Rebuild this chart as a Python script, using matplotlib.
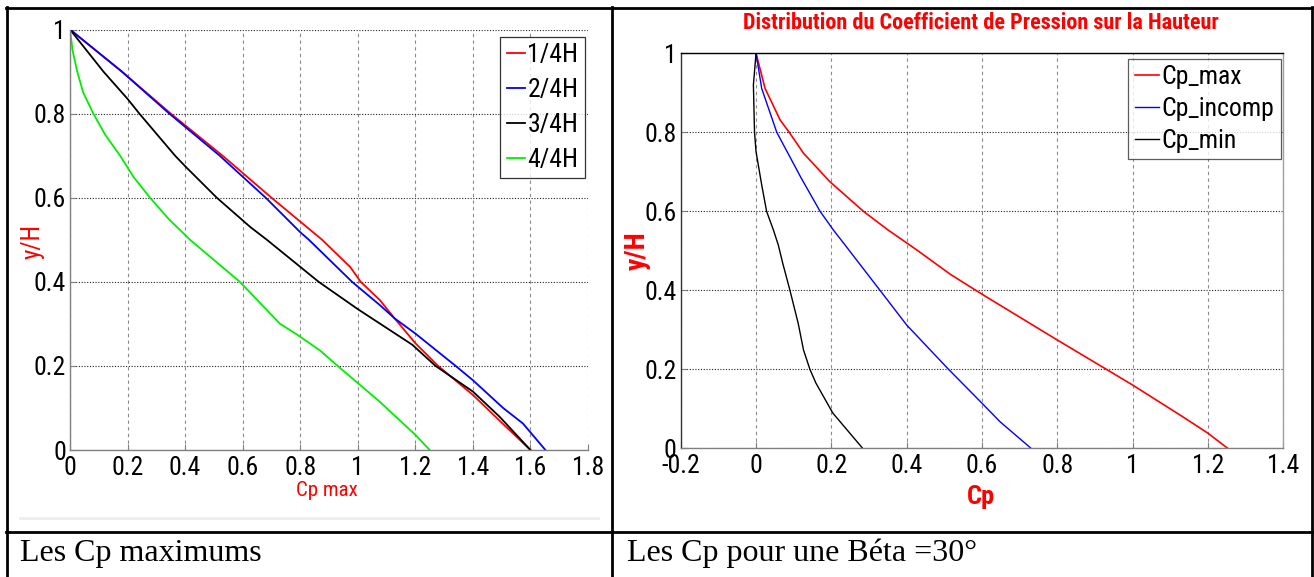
import matplotlib
matplotlib.use("Agg")
import matplotlib.pyplot as plt
from matplotlib.lines import Line2D

# ---------------- data ----------------
# Left chart: Cp max for four heights
red_y = [1.0, 0.9, 0.8, 0.7, 0.6, 0.5, 0.435, 0.4, 0.357, 0.313, 0.254, 0.2, 0.131, 0.065, 0.0]
red_x = [0.0, 0.18, 0.35, 0.53, 0.70, 0.876, 0.974, 1.01, 1.076, 1.128, 1.2, 1.279, 1.4, 1.50, 1.6]

blue_y = [1.0, 0.9, 0.8, 0.7, 0.6, 0.518, 0.5, 0.4, 0.345, 0.313, 0.277, 0.2, 0.166, 0.1, 0.063, 0.0]
blue_x = [0.0, 0.18, 0.345, 0.52, 0.68, 0.8, 0.83, 0.98, 1.076, 1.128, 1.2, 1.34, 1.4, 1.505, 1.574, 1.652]

black_y = [1.0, 0.9, 0.835, 0.8, 0.7, 0.675, 0.6, 0.53, 0.5, 0.4, 0.335, 0.301, 0.25, 0.2, 0.139, 0.079, 0.0]
black_x = [0.0, 0.116, 0.2, 0.241, 0.365, 0.4, 0.51, 0.627, 0.684, 0.864, 1.0, 1.076, 1.19, 1.27, 1.4, 1.493, 1.6]

green_y = [1.0, 0.95, 0.9, 0.85, 0.8, 0.75, 0.7, 0.65, 0.6, 0.55, 0.5, 0.4, 0.3735, 0.3, 0.274, 0.236, 0.2, 0.115, 0.036, 0.0]
green_x = [0.0, 0.009, 0.025, 0.046, 0.081, 0.122, 0.174, 0.22, 0.278, 0.342, 0.417, 0.59, 0.627, 0.73, 0.79, 0.87, 0.93, 1.076, 1.2, 1.25]

left_labels = ["1/4H", "2/4H", "3/4H", "4/4H"]
left_xticks = [0, 0.2, 0.4, 0.6, 0.8, 1.0, 1.2, 1.4, 1.6, 1.8]
left_xticklabels = ["0", "0.2", "0.4", "0.6", "0.8", "1", "1.2", "1.4", "1.6", "1.8"]
yticks = [0, 0.2, 0.4, 0.6, 0.8, 1.0]
yticklabels = ["0", "0.2", "0.4", "0.6", "0.8", "1"]

# Right chart: Beta = 30 deg
cpmax_y = [1.0, 0.911, 0.831, 0.8, 0.747, 0.675, 0.6, 0.553, 0.502, 0.441, 0.39, 0.274, 0.2, 0.16, 0.084, 0.038, 0.0]
cpmax_x = [0.0, 0.024, 0.064, 0.088, 0.126, 0.196, 0.285, 0.35, 0.427, 0.515, 0.6, 0.8, 0.93, 1.0, 1.126, 1.2, 1.252]

cpinc_y = [1.0, 0.911, 0.8, 0.684, 0.6, 0.553, 0.515, 0.4, 0.312, 0.2, 0.114, 0.067, 0.0]
cpinc_x = [0.0, 0.015, 0.055, 0.12, 0.17, 0.205, 0.236, 0.329, 0.4, 0.511, 0.6, 0.648, 0.73]

cpmin_y = [1.0, 0.92, 0.8, 0.751, 0.667, 0.6, 0.553, 0.515, 0.468, 0.4, 0.316, 0.249, 0.2, 0.165, 0.089, 0.0]
cpmin_x = [0.0, -0.007, -0.004, 0.0, 0.015, 0.028, 0.046, 0.059, 0.071, 0.09, 0.112, 0.126, 0.143, 0.159, 0.204, 0.283]

right_labels = ["Cp_max", "Cp_incomp", "Cp_min"]
right_xticks = [-0.2, 0, 0.2, 0.4, 0.6, 0.8, 1.0, 1.2, 1.4]
right_xticklabels = ["-0.2", "0", "0.2", "0.4", "0.6", "0.8", "1", "1.2", "1.4"]

title_right = "Distribution du Coefficient de Pression sur la Hauteur"
caption_left = "Les Cp maximums"
caption_right = "Les Cp pour une Béta =30°"

# ---------------- figure ----------------
W, H = 1314, 577
fig = plt.figure(figsize=(W / 100, H / 100), dpi=100)
fig.patch.set_facecolor("white")

NARROW = ["Roboto Condensed", "DejaVu Sans"]
SERIF = ["Liberation Serif", "DejaVu Serif"]
TICK_FS = 18.5


def fx(px):
    return px / W


def fy(py):
    return 1 - py / H


def style_axes(ax):
    ax.set_facecolor("white")
    ax.xaxis.grid(True, color="#8c8c8c", linestyle=(0, (3, 3)), linewidth=0.8)
    ax.yaxis.grid(True, color="#222222", linestyle=(0, (1, 1.5)), linewidth=0.8)
    ax.set_axisbelow(True)
    ax.tick_params(direction="in", length=4, width=0.8, colors="#808080",
                   labelcolor="black", labelsize=TICK_FS)
    for lab in ax.get_xticklabels() + ax.get_yticklabels():
        lab.set_family(NARROW)


# ---- left axes ----
axL = fig.add_axes([fx(70), fy(450), (588 - 70) / W, (450 - 29.5) / H])
axL.plot(red_x, red_y, color="#ff0000", lw=1.3, label=left_labels[0])
axL.plot(blue_x, blue_y, color="#0000ff", lw=1.3, label=left_labels[1])
axL.plot(black_x, black_y, color="black", lw=1.3, label=left_labels[2])
axL.plot(green_x, green_y, color="#00ee00", lw=1.3, label=left_labels[3])
axL.set_xlim(0, 1.8)
axL.set_ylim(0, 1)
axL.set_xticks(left_xticks)
axL.set_xticklabels(left_xticklabels)
axL.set_yticks(yticks)
axL.set_yticklabels(yticklabels)
style_axes(axL)
axL.tick_params(axis="x", pad=4)
axL.tick_params(axis="y", pad=3)
for s in ["top", "right"]:
    axL.spines[s].set_visible(False)
for s in ["left", "bottom"]:
    axL.spines[s].set_color("#808080")
    axL.spines[s].set_linewidth(1.0)
legL = axL.legend(loc="upper right", bbox_to_anchor=(0.994, 0.982),
                  prop={"family": NARROW, "size": TICK_FS}, frameon=True, fancybox=False,
                  edgecolor="black", handlelength=0.7, handletextpad=0.1,
                  labelspacing=0.42, borderpad=0.25, borderaxespad=0)
legL.get_frame().set_linewidth(0.9)

# ---- right axes ----
axR = fig.add_axes([fx(680.7), fy(448.3), (1283.4 - 680.7) / W, (448.3 - 53.3) / H])
axR.plot(cpmax_x, cpmax_y, color="#ff0000", lw=1.2, label=right_labels[0])
axR.plot(cpinc_x, cpinc_y, color="#0000ff", lw=1.0, label=right_labels[1])
axR.plot(cpmin_x, cpmin_y, color="black", lw=1.0, label=right_labels[2])
axR.set_xlim(-0.2, 1.4)
axR.set_ylim(0, 1)
axR.set_xticks(right_xticks)
axR.set_xticklabels(right_xticklabels)
axR.set_yticks(yticks)
axR.set_yticklabels(yticklabels)
style_axes(axR)
axR.tick_params(axis="x", pad=4)
axR.tick_params(axis="y", pad=3)
axR.spines["top"].set_color("black")
axR.spines["left"].set_color("#333333")
axR.spines["bottom"].set_color("#808080")
axR.spines["right"].set_color("#a0a0a0")
for s in axR.spines.values():
    s.set_linewidth(1.0)
legR = axR.legend(loc="upper right", bbox_to_anchor=(0.996, 0.9856),
                  prop={"family": NARROW, "size": TICK_FS}, frameon=True, fancybox=False,
                  edgecolor="#333333", handlelength=0.95, handletextpad=0.1,
                  labelspacing=0.3, borderpad=0.25, borderaxespad=0)
legR.get_frame().set_linewidth(0.9)

# ---- labels & title ----
fig.text(fx(327), fy(491), "Cp max", color="#ff0000", family=NARROW, fontsize=15,
         ha="center", va="center")
fig.text(fx(33), fy(241), "y/H", color="#ff0000", family=NARROW, fontsize=18,
         ha="center", va="center", rotation=90)
fig.text(fx(981), fy(497), "Cp", color="#ff0000", family=NARROW, fontsize=19,
         fontweight="bold", ha="center", va="center")
fig.text(fx(637), fy(251), "y/H", color="#ff0000", family=NARROW, fontsize=20,
         fontweight="bold", ha="center", va="center", rotation=90)
fig.text(fx(981), fy(23), title_right, color="#ff0000", family=NARROW, fontsize=16,
         fontweight="bold", ha="center", va="center")

# ---- captions ----
fig.text(fx(20), fy(553), caption_left, family=SERIF, fontsize=23, ha="left", va="center")
fig.text(fx(627), fy(553), caption_right, family=SERIF, fontsize=23, ha="left", va="center")

# ---- table borders ----
def hline(y, x0, x1, lw=2.0, color="black"):
    fig.add_artist(Line2D([fx(x0), fx(x1)], [fy(y), fy(y)], color=color, lw=lw,
                          transform=fig.transFigure))


def vline(x, y0, y1, lw=2.0, color="black"):
    fig.add_artist(Line2D([fx(x), fx(x)], [fy(y0), fy(y1)], color=color, lw=lw,
                          transform=fig.transFigure))


hline(7.5, 6, 1313)
hline(532, 6, 1313)
vline(7, 7, 577)
vline(612, 7, 577)
vline(1312, 7, 577)
hline(518, 20, 598, lw=2.0, color="#eeeeee")

fig.savefig("out.png", dpi=100, facecolor="white")
